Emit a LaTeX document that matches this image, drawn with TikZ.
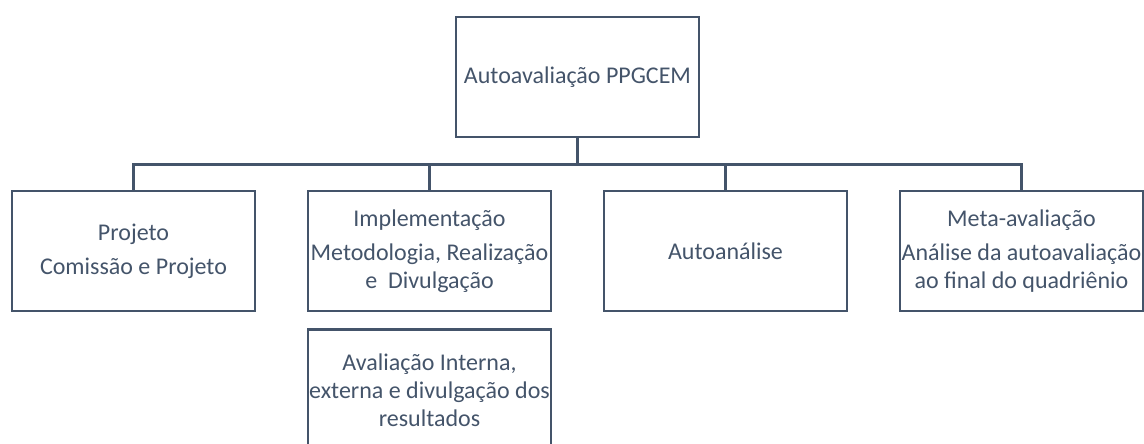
\documentclass[tikz,border=0pt]{standalone}
\usepackage{fontspec}
\setmainfont{Carlito}
\usetikzlibrary{positioning}
\definecolor{slate}{HTML}{44546A}
\begin{document}
\begin{tikzpicture}[
    x=1pt, y=1pt,
    level distance=174pt,
    level 1/.style={sibling distance=296pt},
    edge from parent/.style={draw, slate, line width=2.8pt},
    edge from parent path={(\tikzparentnode.south) -- ++(0,-26pt) -| (\tikzchildnode.north)},
    every node/.style={draw, slate, line width=2.8pt, rectangle, align=center,
      minimum width=243pt, minimum height=120pt, inner sep=0pt,
      font=\fontsize{24}{28}\selectfont}
    ]
    \clip (0,0) rectangle (1144,444);
    \useasboundingbox (0,0) rectangle (1144,444);
    
    \node (root) at (577.5,367) {Autoavaliação PPGCEM}
    child {node (proj) {Projeto\\[6pt]Comissão e Projeto}}
    child {node (impl) {Implementação\\[6pt]Metodologia, Realização\\e\ \ Divulgação}}
    child {node (anal) {Autoanálise}}
    child {node (meta) {Meta-avaliação\\[6pt]Análise da autoavaliação\\ao final do quadriênio}};
    
    \node (aval) [below=16pt of impl] {Avaliação Interna,\\externa e divulgação dos\\resultados};
    
  \end{tikzpicture}
\end{document}
